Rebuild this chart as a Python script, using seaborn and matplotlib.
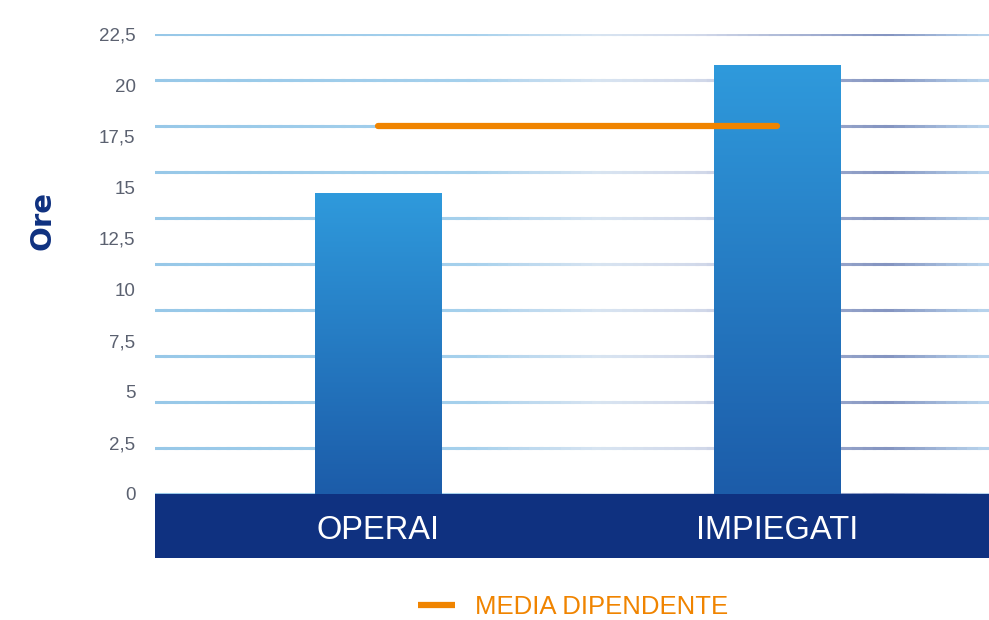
import matplotlib
matplotlib.use("Agg")
import numpy as np
import pandas as pd
import seaborn as sns
import matplotlib.pyplot as plt
from matplotlib.colors import LinearSegmentedColormap, to_rgb
from matplotlib.lines import Line2D
from matplotlib.patches import Rectangle

# ---- data ----
categories = ["OPERAI", "IMPIEGATI"]
ore = [14.7, 21.0]
media_dipendente = [18.0, 18.0]
y_ticks = [0, 2.5, 5, 7.5, 10, 12.5, 15, 17.5, 20, 22.5]
y_tick_labels = ["0", "2,5", "5", "7,5", "10", "12,5", "15", "17,5", "20", "22,5"]
legend_label = "MEDIA DIPENDENTE"
y_label = "Ore"

# ---- style ----
NAVY = "#0F3180"
ORANGE = "#F08400"
BAR_TOP = "#2F9ADC"
BAR_BOTTOM = "#1C5CA9"
TICK_GREY = "#5B6170"

sns.set_theme(style="white")
plt.rcParams["font.family"] = ["Liberation Sans", "DejaVu Sans"]

W, H = 989, 620
fig = plt.figure(figsize=(W / 100, H / 100), dpi=100)
ax_left, ax_right, ax_top, ax_bottom = 155, 989, 34, 494
ax = fig.add_axes([ax_left / W, (H - ax_bottom) / H,
                   (ax_right - ax_left) / W, (ax_bottom - ax_top) / H])

df = pd.DataFrame({"categoria": categories, "ore": ore})
sns.barplot(data=df, x="categoria", y="ore", width=0.316, color=BAR_BOTTOM,
            saturation=1, ax=ax, zorder=3)

sns.pointplot(x=categories, y=media_dipendente, color=ORANGE, markers="",
              linestyles="-", linewidth=4.5, errorbar=None, ax=ax)
for ln in ax.lines:
    ln.set_solid_capstyle("round")
    ln.set_zorder(6)

xlim = ((ax_left - 378) / 399, (ax_right - 378) / 399)
ylim = (0, 22.5)

# vertical gradient inside bars
grad_cmap = LinearSegmentedColormap.from_list("bar", [BAR_BOTTOM, BAR_TOP])
grad = np.linspace(0, 1, 256).reshape(-1, 1)
for p in list(ax.patches):
    x0, y0 = p.get_x(), p.get_y()
    w, h = p.get_width(), p.get_height()
    im = ax.imshow(grad, extent=[x0, x0 + w, y0, y0 + h], origin="lower",
                   cmap=grad_cmap, aspect="auto", zorder=4, interpolation="bilinear")
    im.set_clip_path(p)
    p.set_edgecolor("none")

# gradient gridlines (11 lines, as in the reference)
grid_ys = np.linspace(ylim[0], ylim[1], 11)
stops_px = [155, 470, 600, 700, 887, 989]
stops_col = ["#97C8E8", "#A5D0EC", "#D8E4F1", "#D2D9EA", "#8393C0", "#BAD6EE"]
stops_rgb = np.array([to_rgb(c) for c in stops_col])
nseg = 80
xs = np.linspace(xlim[0], xlim[1], nseg + 1)
mid_px = 378 + ((xs[:-1] + xs[1:]) / 2) * 399
seg_cols = np.column_stack([np.interp(mid_px, stops_px, stops_rgb[:, k]) for k in range(3)])
lc = ax.hlines(np.repeat(grid_ys, nseg), np.tile(xs[:-1], len(grid_ys)),
               np.tile(xs[1:], len(grid_ys)), colors=np.tile(seg_cols, (len(grid_ys), 1)),
               linewidth=2.2, zorder=1)
lc.set_capstyle("projecting")

ax.set_xlim(*xlim)
ax.set_ylim(*ylim)

# navy band under the axis
band_h = (558 - ax_bottom) / (ax_bottom - ax_top)
ax.add_patch(Rectangle((0, -band_h), 1, band_h, transform=ax.transAxes,
                       facecolor=NAVY, edgecolor="none", clip_on=False, zorder=0))

for s in ax.spines.values():
    s.set_visible(False)

ax.set_yticks(y_ticks)
ax.set_yticklabels(y_tick_labels)
ax.tick_params(axis="y", length=0, pad=14, labelsize=13.5, labelcolor=TICK_GREY)
ax.tick_params(axis="x", length=0, pad=15, labelsize=23.5, labelcolor="white")
ax.set_xlabel("")
ax.set_ylabel(y_label, fontsize=21, fontweight="bold", color=NAVY,
              family=["DejaVu Sans"])
ax.yaxis.set_label_coords(-(ax_left - 56) / (ax_right - ax_left),
                          (ax_bottom - 220) / (ax_bottom - ax_top))

handle = Line2D([], [], color=ORANGE, linewidth=4.5, solid_capstyle="butt")
leg = fig.legend([handle], [legend_label], loc="center",
                 bbox_to_anchor=(573 / W, 13 / H), frameon=False,
                 fontsize=18.5, handlelength=1.45, handletextpad=0.75,
                 borderpad=0.1, borderaxespad=0.1)
for t in leg.get_texts():
    t.set_color(ORANGE)

fig.savefig("out.png", dpi=100)
